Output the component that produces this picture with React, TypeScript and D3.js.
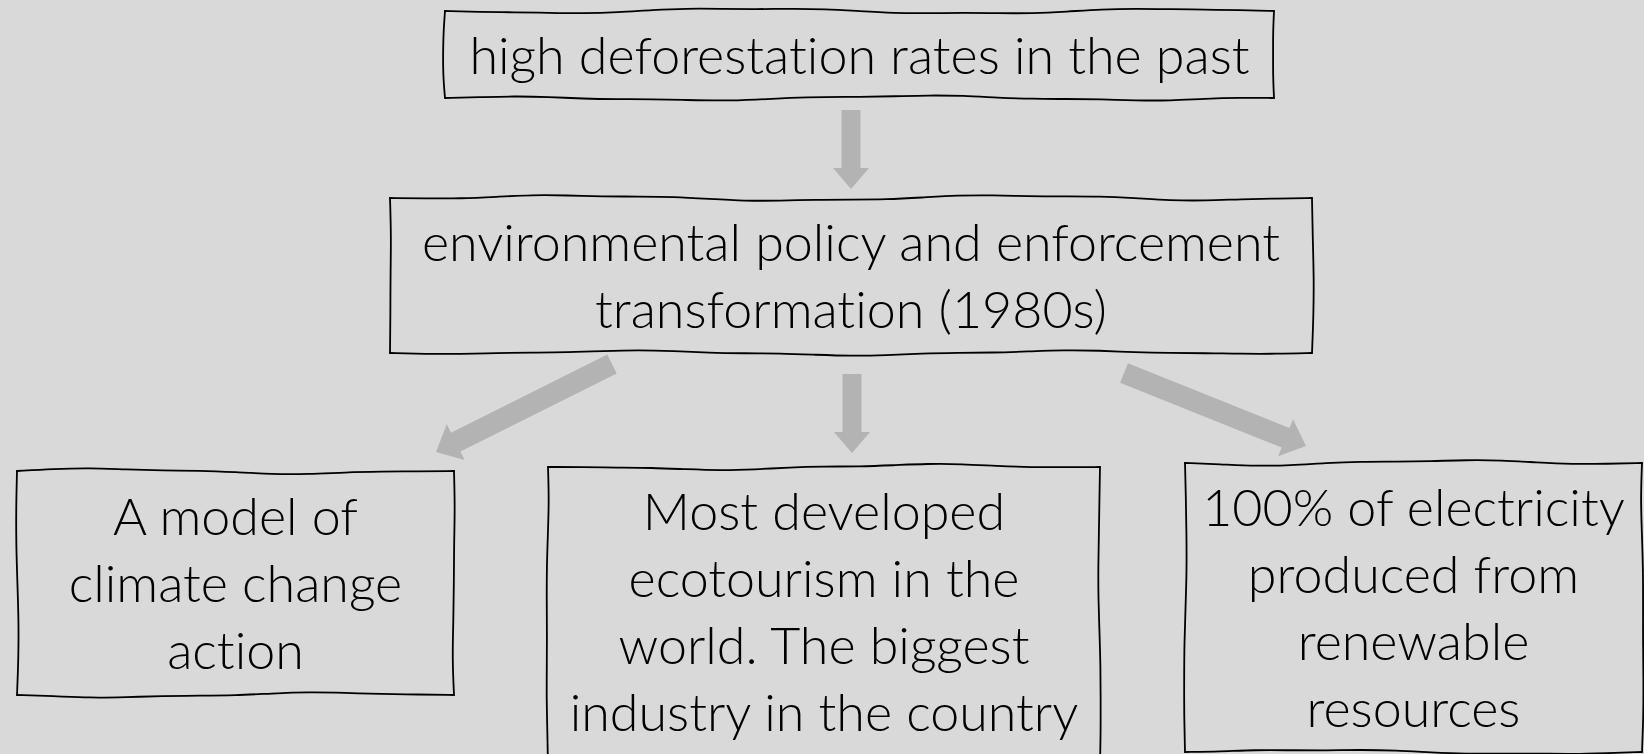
import React, { useRef, useEffect } from "react";
import * as d3 from "d3";

// node texts, one array of lines per box
const nodeIds = ["past", "policy", "climate", "tourism", "energy"];
const nodeLines = [
  ["high deforestation rates in the past"],
  ["environmental policy and enforcement", "transformation (1980s)"],
  ["A model of", "climate change", "action"],
  ["Most developed", "ecotourism in the", "world. The biggest", "industry in the country"],
  ["100% of electricity", "produced from", "renewable", "resources"],
];
const edgeFrom = ["past", "policy", "policy", "policy"];
const edgeTo = ["policy", "climate", "tourism", "energy"];

// layout (pixels)
const boxes: Record<string, { x: number; y: number; w: number; h: number; ty: number }> = {
  past: { x: 445, y: 11, w: 829, h: 87, ty: 56 },
  policy: { x: 390, y: 198, w: 922, h: 155, ty: 243 },
  climate: { x: 17, y: 471, w: 437, h: 224, ty: 517 },
  tourism: { x: 548, y: 467, w: 552, h: 300, ty: 512 },
  energy: { x: 1185, y: 463, w: 457, h: 289, ty: 508 },
};
const arrows = [
  { x1: 851, y1: 110, x2: 851, y2: 189, w: 19, hw: 36, hl: 21 },
  { x1: 612, y1: 364, x2: 436, y2: 452, w: 21, hw: 40, hl: 22 },
  { x1: 852, y1: 374, x2: 852, y2: 453, w: 19, hw: 36, hl: 21 },
  { x1: 1124, y1: 373, x2: 1306, y2: 446, w: 21, hw: 40, hl: 22 },
];

const W = 1644;
const H = 754;
const FONT = 52;
const LINE = 67;

// hand drawn edge: long smooth waves plus a small ripple
const wobble = (x0: number, y0: number, x1: number, y1: number, seed: number, amp: number) => {
  const len = Math.hypot(x1 - x0, y1 - y0);
  const n = Math.max(4, Math.round(len / 35));
  const nx = -(y1 - y0) / len;
  const ny = (x1 - x0) / len;
  const pts: [number, number][] = [];
  for (let i = 0; i <= n; i++) {
    const t = i / n;
    const d = t * len;
    const fade = Math.min(1, t * 8, (1 - t) * 8);
    const o = fade * amp * (Math.sin(d / 70 + seed) * 0.75 + Math.sin(d / 23 + seed * 2.3) * 0.25);
    pts.push([x0 + (x1 - x0) * t + nx * o, y0 + (y1 - y0) * t + ny * o]);
  }
  return pts;
};

const App = () => {
  const svgRef = useRef<SVGSVGElement>(null);

  useEffect(() => {
    const svg = d3.select(svgRef.current);
    svg.selectAll("*").remove();

    const line = d3.line().curve(d3.curveBasis);

    // arrows
    svg.append("g")
      .selectAll("path")
      .data(arrows)
      .enter()
      .append("path")
      .attr("d", a => {
        const len = Math.hypot(a.x2 - a.x1, a.y2 - a.y1);
        const ux = (a.x2 - a.x1) / len, uy = (a.y2 - a.y1) / len;
        const px = -uy, py = ux;
        const bx = a.x2 - ux * a.hl, by = a.y2 - uy * a.hl;
        const p = (x: number, y: number, s: number) => [x + px * s, y + py * s];
        const pts = [
          p(a.x1, a.y1, a.w / 2), p(bx, by, a.w / 2), p(bx, by, a.hw / 2),
          [a.x2, a.y2], p(bx, by, -a.hw / 2), p(bx, by, -a.w / 2), p(a.x1, a.y1, -a.w / 2),
        ];
        return "M" + pts.map(q => q.join(",")).join("L") + "Z";
      })
      .attr("fill", "#b3b3b3");

    const g = svg.append("g")
      .selectAll("g")
      .data(nodeIds)
      .enter()
      .append("g");

    g.each(function (id, i) {
      const b = boxes[id];
      const s = i * 1.7 + 0.4;
      const node = d3.select(this);
      const sides = [
        wobble(b.x, b.y, b.x + b.w, b.y, s, 3.5),
        wobble(b.x + b.w, b.y, b.x + b.w, b.y + b.h, s + 1.1, 2),
        wobble(b.x + b.w, b.y + b.h, b.x, b.y + b.h, s + 2.3, 3),
        wobble(b.x, b.y + b.h, b.x, b.y, s + 3.7, 2),
      ];
      sides.forEach(pts => {
        node.append("path")
          .attr("d", line(pts))
          .attr("fill", "none")
          .attr("stroke", "#000")
          .attr("stroke-width", 1.8)
          .attr("stroke-linecap", "round");
      });
      node.selectAll("text")
        .data(nodeLines[i])
        .enter()
        .append("text")
        .attr("x", b.x + b.w / 2)
        .attr("y", (d, j) => b.ty + j * LINE)
        .attr("dy", "0.35em")
        .attr("text-anchor", "middle")
        .attr("font-family", "Lato, 'Open Sans', sans-serif")
        .attr("font-weight", 300)
        .attr("font-size", FONT)
        .style("font-variant-ligatures", "none")
        .attr("fill", "#000")
        .text(d => d);
    });
  }, []);

  return (
    <svg ref={svgRef} width={W} height={H}
      style={{ position: "absolute", left: 0, top: 0, background: "#d9d9d9", display: "block" }}>
    </svg>
  );
};

export default App;
